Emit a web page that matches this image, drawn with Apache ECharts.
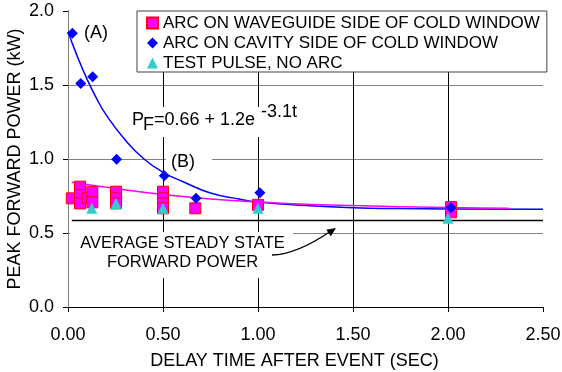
<!DOCTYPE html>
<html>
<head>
<meta charset="utf-8">
<script src="https://cdn.jsdelivr.net/npm/echarts@6/dist/echarts.min.js"></script>
<style>
html, body { margin: 0; padding: 0; background: #fff; }
#main { width: 562px; height: 372px; }
</style>
</head>
<body>
<div id="main"></div>
<script>
// arc on waveguide side of cold window (squares)
const waveguideT = [0.02, 0.063, 0.063, 0.063, 0.104, 0.128, 0.128, 0.253, 0.253, 0.253, 0.5, 0.5, 0.5, 0.5, 0.67, 1.0, 2.016, 2.016];
const waveguideP = [0.734, 0.813, 0.757, 0.70, 0.734, 0.779, 0.707, 0.779, 0.734, 0.70, 0.779, 0.734, 0.70, 0.667, 0.667, 0.69, 0.675, 0.64];
// arc on cavity side of cold window (diamonds)
const cavityT = [0.023, 0.067, 0.13, 0.256, 0.507, 0.674, 1.01, 2.016];
const cavityP = [1.85, 1.51, 1.556, 0.998, 0.887, 0.734, 0.772, 0.671];
// test pulse, no arc (triangles)
const pulseT = [0.125, 0.253, 0.5, 1.0, 2.0];
const pulseP = [0.667, 0.70, 0.667, 0.667, 0.60];
// fitted curves
const cavityFitT = [0, 0.05, 0.1, 0.15, 0.2, 0.3, 0.4, 0.5, 0.6, 0.75, 0.9, 1.0, 1.25, 1.5, 1.75, 2.0, 2.5];
const cavityFitP = [1.86, 1.69, 1.54, 1.41, 1.30, 1.13, 1.00, 0.91, 0.85, 0.77, 0.73, 0.71, 0.685, 0.67, 0.665, 0.663, 0.66];
const waveFitT = [0.02, 0.25, 0.5, 0.75, 1.0, 1.25, 1.5, 2.0, 2.32];
const waveFitP = [0.843, 0.80, 0.76, 0.73, 0.71, 0.695, 0.685, 0.672, 0.668];
// average steady state forward power
const steadyT = [0.02, 2.5];
const steadyP = [0.585, 0.585];

const names = [
  'ARC ON WAVEGUIDE SIDE OF COLD WINDOW',
  'ARC ON CAVITY SIDE OF COLD WINDOW',
  'TEST PULSE, NO ARC',
];

const pair = (xs, ys) => xs.map((x, i) => [x, ys[i]]);
const font = '"Liberation Sans", Arial, sans-serif';

const chart = echarts.init(document.getElementById('main'));

const option = {
  animation: false,
  textStyle: { fontFamily: font, color: '#000' },
  grid: { left: 68, right: 19, top: 11, bottom: 65, outerBoundsMode: 'none' },
  xAxis: {
    type: 'value',
    min: 0,
    max: 2.5,
    interval: 0.5,
    name: 'DELAY TIME AFTER EVENT (SEC)',
    nameLocation: 'middle',
    nameGap: 45,
    nameMoveOverlap: false,
    nameTextStyle: { fontSize: 18, color: '#000', padding: [0, 22, 0, 0] },
    axisLine: { onZero: false, lineStyle: { color: '#000' } },
    axisTick: { length: 5, lineStyle: { color: '#000' } },
    axisLabel: { fontSize: 18, color: '#000', margin: 19, formatter: v => v.toFixed(2) },
    splitLine: { show: true, showMaxLine: false, lineStyle: { color: '#000', width: 1 } },
  },
  yAxis: [{
    type: 'value',
    min: 0,
    max: 2,
    interval: 0.5,
    name: 'PEAK FORWARD POWER (kW)',
    nameLocation: 'middle',
    nameGap: 44,
    nameMoveOverlap: false,
    nameTextStyle: { fontSize: 18, color: '#000' },
    axisLine: { show: true, onZero: false, lineStyle: { color: '#000' } },
    axisTick: { show: true, length: 5, lineStyle: { color: '#000' } },
    axisLabel: { fontSize: 18, color: '#000', margin: 14, formatter: v => v.toFixed(1) },
    splitLine: { show: true, showMaxLine: false, lineStyle: { color: '#808080', width: 1 } },
  }, {
    // right frame line
    type: 'value',
    position: 'right',
    min: 0,
    max: 2,
    axisLine: { show: true, lineStyle: { color: '#808080' } },
    axisTick: { show: false },
    axisLabel: { show: false },
    splitLine: { show: false },
  }],
  legend: {
    left: 137,
    top: 11,
    orient: 'vertical',
    data: names,
    backgroundColor: '#fff',
    borderColor: '#404040',
    borderWidth: 1,
    borderRadius: 0,
    padding: [3, 7, 0, 9],
    itemGap: 2,
    itemWidth: 11,
    itemHeight: 11,
    selectedMode: false,
    textStyle: { fontSize: 17, color: '#000', lineHeight: 18 },
  },
  series: [
    {
      name: 'cavity fit',
      type: 'line',
      data: pair(cavityFitT, cavityFitP),
      smooth: true,
      symbol: 'none',
      silent: true,
      lineStyle: { color: '#0000FF', width: 1.5 },
      z: 2,
    },
    {
      name: 'waveguide fit',
      type: 'line',
      data: pair(waveFitT, waveFitP),
      smooth: true,
      symbol: 'none',
      silent: true,
      lineStyle: { color: '#FF00FF', width: 1.5 },
      z: 2,
    },
    {
      name: 'steady',
      type: 'line',
      data: pair(steadyT, steadyP),
      symbol: 'none',
      silent: true,
      lineStyle: { color: '#000', width: 1.5 },
      z: 2,
    },
    {
      name: names[0],
      type: 'scatter',
      data: pair(waveguideT, waveguideP),
      symbol: 'rect',
      symbolSize: 11,
      itemStyle: { color: '#FF00FF', borderColor: '#FF0000', borderWidth: 1, opacity: 1 },
      z: 3,
    },
    {
      name: names[1],
      type: 'scatter',
      data: pair(cavityT, cavityP),
      symbol: 'diamond',
      symbolSize: 11,
      itemStyle: { color: '#0000FF', opacity: 1 },
      z: 4,
    },
    {
      name: names[2],
      type: 'scatter',
      data: pair(pulseT, pulseP),
      symbol: 'triangle',
      symbolSize: 11,
      itemStyle: { color: '#33CCCC', opacity: 1 },
      z: 5,
    },
  ],
  graphic: [
    { type: 'text', z: 6, style: { text: '(A)', x: 84, y: 33, verticalAlign: 'middle', font: '18px ' + font, fill: '#000' } },
    { type: 'rect', z: 1, shape: { x: 166, y: 150, width: 46, height: 25 }, style: { fill: '#fff' } },
    { type: 'text', z: 6, style: { text: '(B)', x: 171, y: 162, verticalAlign: 'middle', font: '18px ' + font, fill: '#000' } },
    { type: 'rect', z: 1, shape: { x: 131, y: 107, width: 170, height: 30 }, style: { fill: '#fff' } },
    { type: 'text', z: 6, style: { text: 'P', x: 132, y: 120.4, verticalAlign: 'middle', font: '18px ' + font, fill: '#000' } },
    { type: 'text', z: 6, style: { text: 'F', x: 143, y: 125.4, verticalAlign: 'middle', font: '18px ' + font, fill: '#000' } },
    { type: 'text', z: 6, style: { text: '=0.66 + 1.2e', x: 154, y: 120.4, verticalAlign: 'middle', font: '18px ' + font, fill: '#000' } },
    { type: 'text', z: 6, style: { text: '-3.1t', x: 261, y: 112, verticalAlign: 'middle', font: '18px ' + font, fill: '#000' } },
    { type: 'rect', z: 1, shape: { x: 70, y: 232, width: 223, height: 46 }, style: { fill: '#fff' } },
    {
      type: 'text', z: 6,
      style: {
        text: 'AVERAGE STEADY STATE\nFORWARD POWER',
        x: 182.5, y: 252.5, align: 'center', verticalAlign: 'middle',
        font: '16.5px ' + font, lineHeight: 19, fill: '#000',
      },
    },
    { type: 'bezierCurve', z: 6, shape: { x1: 272, y1: 255, x2: 331, y2: 231, cpx1: 296.5, cpy1: 254.5 }, style: { stroke: '#000', lineWidth: 1.3, fill: null } },
    { type: 'polygon', z: 6, shape: { points: [[336, 228], [330.8, 236.3], [326.3, 229.7]] }, style: { fill: '#000' } },
  ],
};

chart.setOption(option);
</script>
</body>
</html>
